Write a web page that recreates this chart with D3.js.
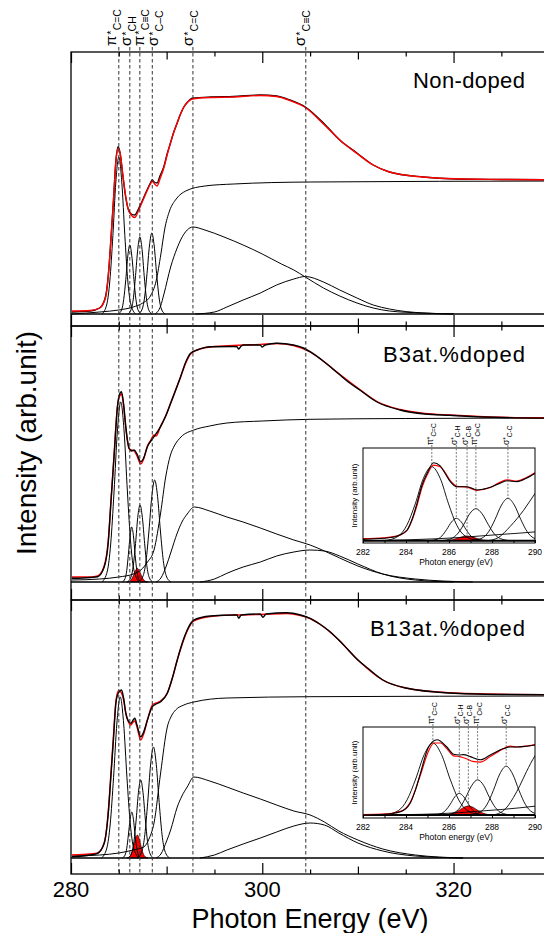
<!DOCTYPE html>
<html>
<head>
<meta charset="utf-8">
<script src="https://cdn.jsdelivr.net/npm/d3@7"></script>
<style>
  body { margin: 0; background: #fff; }
  svg { display: block; font-family: "Liberation Sans", Arial, Helvetica, sans-serif; }
</style>
</head>
<body>
<div id="chart"></div>
<script>
// ---- labels ----
var panelNames = ["Non-doped", "B3at.%doped", "B13at.%doped"];
var xTickLabels = [280, 300, 320];
var peakEnergies = [285.0, 286.15, 287.2, 288.5, 292.75, 304.55];
var peakSymbols = ["π", "σ", "π", "σ", "σ", "σ"];
var peakBonds = ["C=C", "CH", "C≡C", "C–C", "C=C", "C≡C"];
var insetSymbols = ["π", "σ", "σ", "π", "σ"];
var insetBonds = ["C=C", "C-H", "C-B", "C≡C", "C-C"];
var insetTicks = [282, 284, 286, 288, 290];

// ---- Non-doped: [photon energy (eV), intensity (arb.)] ----
var nonMeasured = [[280.1,0.02],[282,0.03],[283,0.06],[283.6,0.17],[284.0,0.5],[284.17,0.74],[284.45,1.15],[284.7,1.54],[284.93,1.673],[285.15,1.6],[285.4,1.4],[285.7,1.18],[285.95,1.06],[286.3,1.0],[286.67,0.99],[287.0,1.04],[287.4,1.12],[287.9,1.23],[288.3,1.31],[288.5,1.34],[288.7,1.32],[289.0,1.31],[289.3,1.38],[289.7,1.47],[290.05,1.6],[290.4,1.71],[290.75,1.82],[291.1,1.91],[291.45,2.0],[291.8,2.07],[292.2,2.12],[292.7,2.157],[294.6,2.17],[297,2.175],[299.8,2.19],[301.5,2.18],[302.9,2.14],[304.5,2.07],[306.4,1.91],[308.1,1.74],[309.9,1.61],[311.6,1.49],[313.3,1.42],[316.8,1.37],[320.3,1.35],[325,1.345],[332,1.34]];
var nonFit = [[280.1,0.03],[282,0.035],[283,0.06],[283.6,0.16],[284.0,0.5],[284.17,0.74],[284.45,1.15],[284.7,1.53],[284.93,1.655],[285.15,1.6],[285.4,1.41],[285.7,1.19],[285.95,1.06],[286.3,0.99],[286.67,0.965],[287.0,1.02],[287.4,1.11],[287.9,1.22],[288.3,1.3],[288.5,1.33],[288.75,1.3],[289.0,1.28],[289.3,1.35],[289.7,1.46],[290.05,1.59],[290.4,1.71],[290.75,1.82],[291.1,1.91],[291.45,2.0],[291.8,2.07],[292.2,2.12],[292.7,2.15],[294.6,2.165],[297,2.17],[299.8,2.185],[301.5,2.175],[302.9,2.135],[304.5,2.065],[306.4,1.9],[308.1,1.74],[309.9,1.605],[311.6,1.49],[313.3,1.42],[316.8,1.37],[320.3,1.352],[325,1.345],[332,1.34]];
var nonStep = [[280.1,0.0],[283,0.02],[285,0.04],[286.5,0.07],[287.5,0.11],[288.3,0.18],[288.9,0.33],[289.4,0.6],[289.8,0.85],[290.3,1.03],[291,1.15],[292,1.23],[294,1.28],[297,1.3],[305,1.32],[332,1.33]];
var nonPiCC = [[283.25,0],[283.75,0.1],[284.06,0.33],[284.38,0.785],[284.69,1.32],[285.0,1.57],[285.31,1.32],[285.63,0.785],[285.94,0.33],[286.25,0.1],[286.75,0]];
var nonSigCH = [[284.96,0],[285.3,0.043],[285.51,0.145],[285.73,0.345],[285.94,0.58],[286.15,0.69],[286.36,0.58],[286.58,0.345],[286.79,0.145],[287.0,0.043],[287.34,0]];
var nonPiCtC = [[285.94,0],[286.3,0.048],[286.53,0.162],[286.75,0.385],[286.98,0.647],[287.2,0.77],[287.43,0.647],[287.65,0.385],[287.88,0.162],[288.1,0.048],[288.46,0]];
var nonSigCC = [[287.05,0],[287.45,0.05],[287.7,0.17],[287.95,0.405],[288.2,0.68],[288.45,0.81],[288.7,0.68],[288.95,0.405],[289.2,0.17],[289.45,0.05],[289.85,0]];
var nonSigCdC = [[288.8,0],[289.37,0.08],[289.72,0.2],[290.42,0.47],[291.1,0.66],[291.46,0.74],[292.15,0.84],[292.75,0.87],[294,0.84],[296,0.77],[298,0.69],[300,0.6],[302,0.5],[303.3,0.44],[304.5,0.37],[306.4,0.26],[308.1,0.18],[309.9,0.11],[311.6,0.06],[313.3,0.03],[316.8,0.01],[320,0]];
var nonSigCtC = [[293,0],[295,0.02],[296.3,0.07],[298,0.14],[299.8,0.21],[301.5,0.29],[303.3,0.35],[304.5,0.375],[306.4,0.32],[308.1,0.24],[309.9,0.16],[311.6,0.09],[313.3,0.05],[316.8,0.01],[320,0]];

// ---- B 3 at.% ----
var b3Measured = [[280.1,0.037],[282,0.045],[282.78,0.053],[283.47,0.15],[283.9,0.4],[284.17,0.787],[284.5,1.25],[284.86,1.753],[285.05,1.87],[285.28,1.903],[285.5,1.78],[285.73,1.553],[285.9,1.42],[286.08,1.337],[286.35,1.31],[286.6,1.32],[286.9,1.28],[287.29,1.203],[287.6,1.24],[287.99,1.353],[288.35,1.41],[288.68,1.453],[289.37,1.553],[289.9,1.66],[290.42,1.787],[291.46,2.053],[292.0,2.2],[292.5,2.287],[293.19,2.32],[294.58,2.353],[297.0,2.355],[297.36,2.353],[297.53,2.33],[297.8,2.36],[298.06,2.37],[299.79,2.37],[299.97,2.35],[300.3,2.37],[301.53,2.387],[303.26,2.37],[304.3,2.34],[305.0,2.303],[306.5,2.2],[308.0,2.08],[309.0,2.0],[310.2,1.92],[312.0,1.8],[314.4,1.72],[317,1.68],[319.6,1.667],[325,1.645],[332,1.637]];
var b3Fit = [[280.1,0.05],[282,0.05],[282.78,0.06],[283.47,0.16],[283.9,0.42],[284.17,0.8],[284.5,1.27],[284.86,1.76],[285.05,1.85],[285.28,1.88],[285.5,1.76],[285.73,1.54],[285.9,1.41],[286.08,1.33],[286.35,1.32],[286.6,1.31],[286.9,1.26],[287.29,1.18],[287.6,1.23],[287.99,1.36],[288.35,1.42],[288.68,1.47],[288.9,1.46],[289.37,1.56],[289.9,1.66],[290.42,1.79],[291.46,2.05],[292.0,2.19],[292.5,2.28],[293.19,2.32],[294.58,2.35],[296.0,2.36],[298.06,2.37],[299.79,2.375],[301.53,2.385],[303.26,2.365],[305.0,2.3],[306.5,2.2],[308.0,2.085],[310.2,1.925],[312,1.805],[314.4,1.725],[317,1.685],[319.6,1.67],[325,1.648],[332,1.64]];
var b3Step = [[280.1,0.02],[283,0.03],[285,0.05],[286.5,0.08],[287.3,0.12],[288.0,0.2],[288.68,0.32],[289.37,0.69],[289.9,1.05],[290.4,1.27],[290.8,1.36],[291.5,1.45],[292.85,1.52],[294.5,1.56],[296.3,1.59],[300,1.61],[305,1.627],[315,1.635],[332,1.64]];
var b3PiCC = [[283.24,0],[283.8,0.11],[284.15,0.38],[284.5,0.9],[284.85,1.51],[285.2,1.8],[285.55,1.51],[285.9,0.9],[286.25,0.38],[286.6,0.11],[287.16,0]];
var b3SigCH = [[285.37,0],[285.65,0.034],[285.83,0.116],[286.0,0.275],[286.18,0.462],[286.35,0.55],[286.53,0.462],[286.7,0.275],[286.88,0.116],[287.05,0.034],[287.33,0]];
var b3PiCtC = [[285.89,0],[286.27,0.048],[286.51,0.162],[286.75,0.385],[286.98,0.647],[287.22,0.77],[287.46,0.647],[287.7,0.385],[287.93,0.162],[288.17,0.048],[288.55,0]];
var b3SigCC = [[287.07,0],[287.55,0.064],[287.85,0.214],[288.15,0.51],[288.45,0.857],[288.75,1.02],[289.05,0.857],[289.35,0.51],[289.65,0.214],[289.95,0.064],[290.43,0]];
var b3SigCB = [[285.82,0],[286.14,0.009],[286.34,0.029],[286.54,0.069],[286.74,0.115],[286.94,0.137],[287.14,0.115],[287.34,0.069],[287.54,0.029],[287.74,0.009],[288.06,0]];
var b3SigCdC = [[288.9,0],[289.4,0.04],[290.0,0.17],[290.42,0.29],[291.11,0.49],[291.6,0.6],[292.15,0.68],[292.9,0.75],[294.5,0.71],[296.3,0.65],[298,0.6],[299.8,0.54],[301.5,0.48],[303.3,0.42],[305,0.37],[306.5,0.31],[308.1,0.24],[310,0.16],[312.6,0.08],[316,0.03],[322,0]];
var b3SigCtC = [[293.5,0],[295,0.03],[296.3,0.087],[298,0.15],[299.8,0.2],[301.5,0.26],[303.3,0.3],[305,0.32],[306.5,0.31],[308.1,0.26],[310,0.18],[312.6,0.08],[316,0.02],[320,0]];

// ---- B 13 at.% ----
var b13Measured = [[280.1,0.013],[282,0.03],[282.78,0.047],[283.47,0.147],[283.9,0.45],[284.17,0.813],[284.45,1.2],[284.69,1.547],[284.95,1.65],[285.28,1.68],[285.5,1.6],[285.73,1.447],[286.0,1.37],[286.25,1.347],[286.5,1.38],[286.67,1.397],[286.9,1.33],[287.29,1.213],[287.6,1.26],[287.99,1.38],[288.51,1.513],[288.9,1.54],[289.37,1.563],[290.07,1.647],[290.6,1.8],[291.11,1.98],[291.6,2.14],[292.15,2.28],[292.85,2.38],[294.58,2.42],[297.0,2.43],[297.36,2.43],[297.53,2.397],[297.8,2.43],[299.79,2.44],[300.07,2.407],[300.4,2.44],[302.57,2.453],[304.0,2.43],[305.0,2.397],[306.0,2.34],[307,2.27],[308,2.18],[309,2.08],[310,1.98],[311,1.9],[312.6,1.78],[315,1.7],[319.6,1.65],[325,1.635],[332,1.63]];
var b13Fit = [[280.1,0.03],[282,0.04],[282.78,0.05],[283.47,0.15],[283.9,0.47],[284.17,0.84],[284.45,1.24],[284.69,1.56],[284.95,1.67],[285.2,1.66],[285.5,1.58],[285.73,1.45],[286.0,1.36],[286.25,1.33],[286.5,1.36],[286.67,1.37],[286.9,1.31],[287.29,1.18],[287.6,1.24],[287.99,1.38],[288.51,1.53],[288.9,1.55],[289.37,1.57],[290.07,1.65],[290.6,1.8],[291.11,1.98],[291.6,2.13],[292.15,2.27],[292.85,2.37],[294.58,2.415],[297.0,2.43],[299.79,2.435],[302.57,2.445],[304.0,2.425],[305.0,2.395],[306.0,2.34],[308,2.18],[310,1.98],[312.6,1.78],[315,1.7],[319.6,1.652],[325,1.637],[332,1.632]];
var b13Step = [[280.1,0.02],[283,0.03],[285,0.05],[286.5,0.08],[287.6,0.11],[288.2,0.2],[288.68,0.35],[289.37,0.85],[290.07,1.31],[290.5,1.42],[290.94,1.48],[291.8,1.53],[292.85,1.56],[296.3,1.6],[305,1.613],[332,1.62]];
var b13PiCC = [[283.19,0],[283.75,0.1],[284.1,0.34],[284.45,0.805],[284.8,1.35],[285.15,1.61],[285.5,1.35],[285.85,0.805],[286.2,0.34],[286.55,0.1],[287.11,0]];
var b13SigCH = [[285.37,0],[285.65,0.029],[285.83,0.097],[286.0,0.23],[286.18,0.386],[286.35,0.46],[286.53,0.386],[286.7,0.23],[286.88,0.097],[287.05,0.029],[287.33,0]];
var b13PiCtC = [[285.96,0],[286.34,0.049],[286.58,0.164],[286.82,0.39],[287.05,0.655],[287.29,0.78],[287.53,0.655],[287.77,0.39],[288.0,0.164],[288.24,0.049],[288.62,0]];
var b13SigCC = [[286.94,0],[287.42,0.069],[287.72,0.233],[288.02,0.555],[288.32,0.932],[288.62,1.11],[288.92,0.932],[289.22,0.555],[289.52,0.233],[289.82,0.069],[290.3,0]];
var b13SigCB = [[285.82,0],[286.14,0.014],[286.34,0.048],[286.54,0.115],[286.74,0.193],[286.94,0.23],[287.14,0.193],[287.34,0.115],[287.54,0.048],[287.74,0.014],[288.06,0]];
var b13SigCdC = [[288.9,0],[289.4,0.04],[290.0,0.17],[290.42,0.28],[291.11,0.51],[291.6,0.62],[292.15,0.71],[292.85,0.81],[294.5,0.77],[296.3,0.71],[298,0.65],[299.8,0.59],[301.5,0.53],[303.3,0.47],[305,0.43],[306.5,0.36],[308,0.27],[310,0.18],[312.6,0.09],[316,0.03],[321,0]];
var b13SigCtC = [[293.5,0],[295,0.03],[296.3,0.08],[298,0.14],[299.8,0.2],[301.5,0.26],[303.3,0.32],[305,0.35],[306.5,0.33],[308,0.25],[310,0.15],[312.6,0.07],[316,0.02],[321,0]];

// ---- insets (282-290 eV zoom) ----
var in3Measured = [[282.0,0.017],[282.96,0.03],[283.6,0.06],[284.05,0.134],[284.3,0.28],[284.51,0.467],[284.75,0.7],[284.98,0.842],[285.28,0.975],[285.59,0.934],[285.8,0.85],[286.06,0.738],[286.37,0.675],[286.84,0.675],[287.3,0.634],[287.6,0.645],[287.92,0.667],[288.3,0.71],[288.7,0.75],[289.16,0.738],[289.6,0.78],[290.0,0.842]];
var in3Fit = [[282.0,0.025],[282.96,0.035],[283.6,0.06],[284.05,0.13],[284.3,0.27],[284.51,0.44],[284.75,0.67],[284.98,0.82],[285.28,0.945],[285.59,0.925],[285.8,0.86],[286.06,0.75],[286.37,0.68],[286.84,0.67],[287.3,0.63],[287.6,0.64],[287.92,0.665],[288.3,0.72],[288.7,0.76],[289.16,0.745],[289.6,0.79],[290.0,0.85]];
var in3PiCC = [[283.03,0],[283.65,0.058],[284.04,0.194],[284.43,0.46],[284.81,0.78],[285.2,0.925],[285.59,0.78],[285.98,0.46],[286.36,0.194],[286.75,0.058],[287.37,0]];
var in3SigCH = [[285.08,0],[285.44,0.018],[285.67,0.059],[285.89,0.14],[286.12,0.235],[286.34,0.28],[286.57,0.235],[286.79,0.14],[287.02,0.059],[287.24,0.018],[287.6,0]];
var in3SigCB = [[285.58,0],[285.94,0.004],[286.17,0.013],[286.39,0.03],[286.62,0.05],[286.84,0.06],[287.07,0.05],[287.29,0.03],[287.52,0.013],[287.74,0.004],[288.1,0]];
var in3PiCtC = [[285.64,0],[286.1,0.025],[286.39,0.084],[286.68,0.2],[286.96,0.336],[287.25,0.4],[287.54,0.336],[287.83,0.2],[288.11,0.084],[288.4,0.025],[288.86,0]];
var in3SigCC = [[287.06,0],[287.54,0.033],[287.84,0.111],[288.14,0.265],[288.44,0.445],[288.74,0.53],[289.04,0.445],[289.34,0.265],[289.64,0.111],[289.94,0.033],[290.42,0]];
var in3Edge = [[287.8,0],[288.3,0.04],[288.85,0.18],[289.47,0.38],[290.0,0.59],[290.3,0.7]];
var in3Step = [[282,0.0],[284,0.01],[285.5,0.025],[286.5,0.04],[287.5,0.06],[288.5,0.08],[289.3,0.095],[290,0.11]];

var in13Measured = [[282.0,0.0],[282.96,0.008],[283.74,0.04],[284.2,0.15],[284.45,0.32],[284.67,0.52],[285.05,0.85],[285.44,0.94],[285.9,0.85],[286.21,0.76],[286.48,0.75],[286.68,0.755],[286.99,0.73],[287.46,0.69],[287.92,0.75],[288.54,0.83],[288.85,0.85],[289.16,0.85],[289.6,0.86],[290.0,0.875]];
var in13Fit = [[282.0,0.005],[282.96,0.01],[283.74,0.045],[284.2,0.16],[284.67,0.5],[285.05,0.8],[285.3,0.9],[285.6,0.9],[285.9,0.83],[286.21,0.74],[286.5,0.73],[286.84,0.7],[287.1,0.67],[287.46,0.66],[287.92,0.73],[288.54,0.83],[288.85,0.86],[289.16,0.85],[289.6,0.86],[290.0,0.88]];
var in13PiCC = [[283.01,0],[283.65,0.056],[284.05,0.189],[284.45,0.45],[284.85,0.756],[285.25,0.9],[285.65,0.756],[286.05,0.45],[286.45,0.189],[286.85,0.056],[287.49,0]];
var in13SigCH = [[285.29,0],[285.63,0.017],[285.84,0.057],[286.06,0.135],[286.27,0.227],[286.48,0.27],[286.69,0.227],[286.91,0.135],[287.12,0.057],[287.33,0.017],[287.67,0]];
var in13SigCB = [[285.64,0],[286.0,0.007],[286.23,0.024],[286.45,0.056],[286.68,0.095],[286.9,0.1125],[287.13,0.095],[287.35,0.056],[287.58,0.024],[287.8,0.007],[288.16,0]];
var in13PiCtC = [[285.79,0],[286.23,0.028],[286.51,0.092],[286.78,0.22],[287.06,0.37],[287.33,0.44],[287.61,0.37],[287.88,0.22],[288.16,0.092],[288.43,0.028],[288.87,0]];
var in13SigCC = [[286.98,0],[287.46,0.038],[287.76,0.128],[288.06,0.305],[288.36,0.512],[288.66,0.61],[288.96,0.512],[289.26,0.305],[289.56,0.128],[289.86,0.038],[290.34,0]];
var in13Edge = [[288.0,0],[288.4,0.03],[288.7,0.1],[289.0,0.22],[289.3,0.37],[289.6,0.54],[290.0,0.74],[290.3,0.85]];
var in13Step = [[282,0.0],[284,0.005],[285.5,0.015],[286.5,0.03],[287.5,0.05],[288.5,0.07],[289.3,0.09],[290,0.11]];

// ---- layout ----
var svgWidth = 544, svgHeight = 933;
var panelTop = [52, 326, 600], panelH = 274, zeroOff = [12, 18, 16];
var labelShift = [-3, 1.5, 4.5, 5.5, 0.5, -0.5];
var nameLength = [112, 142, 155];

var svg = d3.select("#chart").append("svg")
  .attr("width", svgWidth)
  .attr("height", svgHeight);

var x = d3.scaleLinear().domain([280, 335]).range([71, 597]);

var panels = [
  { name: panelNames[0], measured: nonMeasured, fit: nonFit, step: nonStep,
    comps: [nonPiCC, nonSigCH, nonPiCtC, nonSigCC, nonSigCdC, nonSigCtC], boron: null, fitOnTop: true },
  { name: panelNames[1], measured: b3Measured, fit: b3Fit, step: b3Step,
    comps: [b3PiCC, b3SigCH, b3PiCtC, b3SigCC, b3SigCdC, b3SigCtC], boron: b3SigCB, fitOnTop: false },
  { name: panelNames[2], measured: b13Measured, fit: b13Fit, step: b13Step,
    comps: [b13PiCC, b13SigCH, b13PiCtC, b13SigCC, b13SigCdC, b13SigCtC], boron: b13SigCB, fitOnTop: false }
];

var minorTicks = d3.range(285, 336, 10);
var midTicks = [290, 310, 330];

function edgeTicks(g, yPos, up) {
  [[minorTicks, 4.5], [midTicks, 7.5], [xTickLabels, 11]].forEach(function(t) {
    var ax = up ? d3.axisBottom(x) : d3.axisTop(x);
    g.append("g")
      .attr("transform", "translate(0," + yPos + ")")
      .call(ax.tickValues(t[0]).tickSize(-t[1]).tickFormat(""))
      .call(function(a) { a.select(".domain").remove(); })
      .selectAll("line").attr("stroke-width", 1.2);
  });
}

panels.forEach(function(p, i) {
  var top = panelTop[i], bottom = top + panelH;
  var y = d3.scaleLinear()
    .domain([-zeroOff[i] / 100, (panelH - zeroOff[i]) / 100])
    .range([bottom, top]);
  var line = d3.line().x(d => x(d[0])).y(d => y(d[1])).curve(d3.curveMonotoneX);

  svg.append("clipPath").attr("id", "clip" + i)
    .append("rect").attr("x", 71).attr("y", top).attr("width", 530).attr("height", panelH);

  var g = svg.append("g");
  var c = g.append("g").attr("clip-path", "url(#clip" + i + ")");

  if (p.boron) {
    c.append("path").datum(p.boron)
      .attr("d", d3.area().x(d => x(d[0])).y0(y(0)).y1(d => y(d[1])).curve(d3.curveMonotoneX))
      .attr("fill", "#ff0000")
      .attr("stroke", "#000")
      .attr("stroke-width", 0.6);
  }

  c.append("line")
    .attr("x1", x(280)).attr("x2", x(335))
    .attr("y1", y(0)).attr("y2", y(0))
    .attr("stroke", "#000").attr("stroke-width", 1.6);

  [p.step].concat(p.comps).forEach(function(d) {
    c.append("path").datum(d)
      .attr("d", line)
      .attr("fill", "none")
      .attr("stroke", "#000")
      .attr("stroke-width", 1);
  });

  var order = p.fitOnTop ? [[p.measured, "#000"], [p.fit, "#ff0000"]] : [[p.fit, "#ff0000"], [p.measured, "#000"]];
  order.forEach(function(s) {
    c.append("path").datum(s[0])
      .attr("d", line)
      .attr("fill", "none")
      .attr("stroke", s[1])
      .attr("stroke-width", 1.4);
  });

  g.append("rect")
    .attr("x", 71).attr("y", top)
    .attr("width", 540).attr("height", panelH)
    .attr("fill", "none").attr("stroke", "#000").attr("stroke-width", 1.3);

  edgeTicks(g, top, false);
  edgeTicks(g, bottom, true);

  g.append("text")
    .attr("x", 525).attr("y", top + 36)
    .attr("text-anchor", "end")
    .attr("font-size", 22)
    .attr("textLength", nameLength[i])
    .attr("lengthAdjust", "spacing")
    .text(p.name);
});

// dashed peak markers through all panels
svg.append("g").selectAll("line")
  .data(peakEnergies)
  .enter().append("line")
  .attr("x1", d => x(d)).attr("x2", d => x(d))
  .attr("y1", 47).attr("y2", 874)
  .attr("stroke", "#333")
  .attr("stroke-width", 1)
  .attr("stroke-dasharray", "3.5,2.5");

// peak labels on top
peakEnergies.forEach(function(e, i) {
  var t = svg.append("text")
    .attr("transform", "translate(" + (x(e) + labelShift[i]) + ",46) rotate(-90)")
    .attr("font-size", 15);
  t.append("tspan").text(peakSymbols[i]);
  t.append("tspan").attr("font-size", 11).attr("dy", -1).attr("dx", 1).text("*");
  t.append("tspan").attr("font-size", 10.5).attr("dy", 6).text(peakBonds[i]);
});

// x tick labels and titles
svg.append("g").selectAll("text")
  .data(xTickLabels)
  .enter().append("text")
  .attr("x", d => x(d)).attr("y", 897)
  .attr("text-anchor", "middle")
  .attr("font-size", 22)
  .text(d => d);

svg.append("text")
  .attr("x", 310).attr("y", 928)
  .attr("text-anchor", "middle")
  .attr("font-size", 27)
  .text("Photon Energy (eV)");

svg.append("text")
  .attr("transform", "translate(36,443) rotate(-90)")
  .attr("text-anchor", "middle")
  .attr("font-size", 28)
  .text("Intensity (arb.unit)");

// ---- insets ----
var insets = [
  { top: 448, bottom: 543, zero: 540.7, measured: in3Measured, fit: in3Fit, step: in3Step, edge: in3Edge,
    comps: [in3PiCC, in3SigCH, in3SigCB, in3PiCtC, in3SigCC] },
  { top: 727, bottom: 818, zero: 815, measured: in13Measured, fit: in13Fit, step: in13Step, edge: in13Edge,
    comps: [in13PiCC, in13SigCH, in13SigCB, in13PiCtC, in13SigCC] }
];

var xi = d3.scaleLinear().domain([282, 290]).range([363, 535]);

insets.forEach(function(s, k) {
  var y = d3.scaleLinear()
    .domain([-(s.bottom - s.zero) / 80, (s.zero - s.top) / 80])
    .range([s.bottom, s.top]);
  var line = d3.line().x(d => xi(d[0])).y(d => y(d[1])).curve(d3.curveMonotoneX);
  var g = svg.append("g");

  g.append("rect")
    .attr("x", 363).attr("y", s.top)
    .attr("width", 172).attr("height", s.bottom - s.top)
    .attr("fill", "#fff");

  svg.append("clipPath").attr("id", "iclip" + k)
    .append("rect").attr("x", 363).attr("y", s.top).attr("width", 172).attr("height", s.bottom - s.top);
  var c = g.append("g").attr("clip-path", "url(#iclip" + k + ")");

  c.append("path").datum(s.comps[2])
    .attr("d", d3.area().x(d => xi(d[0])).y0(y(0)).y1(d => y(d[1])).curve(d3.curveMonotoneX))
    .attr("fill", "#ff0000").attr("stroke", "#000").attr("stroke-width", 0.6);

  [s.step, s.edge].concat(s.comps).forEach(function(d, j) {
    if (j === 4) return;
    c.append("path").datum(d)
      .attr("d", line)
      .attr("fill", "none").attr("stroke", "#000").attr("stroke-width", 0.9);
  });

  c.append("line")
    .attr("x1", 363).attr("x2", 535)
    .attr("y1", y(0)).attr("y2", y(0))
    .attr("stroke", "#000").attr("stroke-width", 2);

  c.append("path").datum(s.fit)
    .attr("d", line).attr("fill", "none").attr("stroke", "#ff0000").attr("stroke-width", 1.2);
  c.append("path").datum(s.measured)
    .attr("d", line).attr("fill", "none").attr("stroke", "#000").attr("stroke-width", 1.1);

  g.append("rect")
    .attr("x", 363).attr("y", s.top)
    .attr("width", 172).attr("height", s.bottom - s.top)
    .attr("fill", "none").attr("stroke", "#000").attr("stroke-width", 1);

  g.append("g")
    .attr("transform", "translate(0," + s.bottom + ")")
    .call(d3.axisBottom(xi).ticks(8).tickSize(-3).tickFormat(""))
    .call(function(a) { a.select(".domain").remove(); });

  g.append("g").selectAll("text")
    .data(insetTicks)
    .enter().append("text")
    .attr("x", d => xi(d)).attr("y", s.bottom + 12)
    .attr("text-anchor", "middle")
    .attr("font-size", 8.5)
    .text(d => d);

  g.append("text")
    .attr("x", 456).attr("y", s.bottom + 22)
    .attr("text-anchor", "middle")
    .attr("font-size", 8.5)
    .text("Photon energy (eV)");

  g.append("text")
    .attr("transform", "translate(357," + ((s.top + s.bottom) / 2) + ") rotate(-90)")
    .attr("text-anchor", "middle")
    .attr("font-size", 8)
    .text("Intensity (arb.unit)");

  // dashed markers from label down to each component peak
  s.comps.forEach(function(d, j) {
    var pk = d.reduce((a, b) => (b[1] > a[1] ? b : a));
    g.append("line")
      .attr("x1", xi(pk[0])).attr("x2", xi(pk[0]))
      .attr("y1", s.top - 3).attr("y2", y(pk[1]))
      .attr("stroke", "#555").attr("stroke-width", 0.8)
      .attr("stroke-dasharray", "2,1.5");
    var t = g.append("text")
      .attr("transform", "translate(" + (xi(pk[0]) + 1) + "," + (s.top - 3) + ") rotate(-90)")
      .attr("font-size", 8.5);
    t.append("tspan").text(insetSymbols[j]);
    t.append("tspan").attr("font-size", 6.5).attr("dy", -1).text("*");
    t.append("tspan").attr("font-size", 6.5).attr("dy", 4).text(insetBonds[j]);
  });
});
</script>
</body>
</html>
